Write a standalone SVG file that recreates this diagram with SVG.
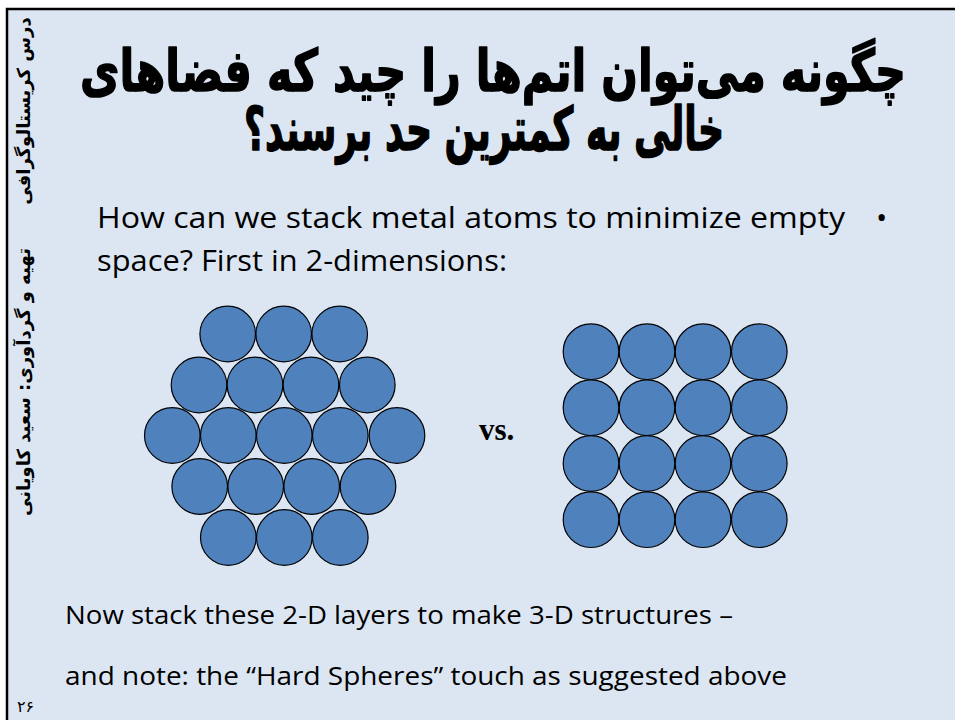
<svg xmlns="http://www.w3.org/2000/svg" width="955" height="720" viewBox="0 0 955 720">
  <style>
    .atom { fill: #4F81BD; stroke: #000000; stroke-width: 1.2; }
    .fa { font-family: "DejaVu Sans", "Noto Sans", sans-serif; font-weight: bold; fill: #000000; }
    .heavy { stroke: #000000; stroke-width: 1.6; stroke-linejoin: round; }
    .en { font-family: "Open Sans", "Liberation Sans", sans-serif; fill: #000000; }
  </style>

  <!-- page and slide frame -->
  <rect x="0" y="0" width="955" height="720" fill="#FFFFFF"/>
  <rect x="7" y="9" width="948" height="711" fill="#DCE6F2"/>
  <path d="M7,720 V9 H955" fill="none" stroke="#000000" stroke-width="2.5"/>

  <!-- side caption -->
  <g id="side-caption">
    <text class="fa" font-size="18" direction="rtl" text-anchor="middle" transform="translate(30,111) rotate(-90)">درس کریستالوگرافی</text>
    <text class="fa" font-size="18" direction="rtl" text-anchor="middle" transform="translate(30,382) rotate(-90)">تهیه و گردآوری: سعید کاویانی</text>
  </g>
  <text id="page-number" x="17" y="712" style="font-family:'DejaVu Sans',sans-serif;font-size:16px;font-weight:normal" fill="#000000">۲۶</text>

  <!-- title -->
  <g id="title">
    <text class="fa heavy" font-size="58" direction="rtl" text-anchor="middle" x="493" y="91" textLength="826" lengthAdjust="spacingAndGlyphs">چگونه می‌توان اتم‌ها را چید که فضاهای</text>
    <text class="fa heavy" font-size="60" direction="rtl" text-anchor="middle" x="484" y="150" textLength="480" lengthAdjust="spacingAndGlyphs">خالی به کمترین حد برسند؟</text>
  </g>

  <!-- bullet -->
  <g id="bullet">
    <text class="en" font-size="30" x="97" y="228" textLength="748" lengthAdjust="spacingAndGlyphs">How can we stack metal atoms to minimize empty</text>
    <text class="en" font-size="30" x="97" y="271" textLength="410" lengthAdjust="spacingAndGlyphs">space? First in 2-dimensions:</text>
    <text class="en" font-size="30" x="876" y="228">•</text>
  </g>

  <!-- close-packed (hexagonal) layer -->
  <g id="hex-layer">
    <circle class="atom" cx="227.7" cy="334" r="27.8"/>
    <circle class="atom" cx="283.7" cy="334" r="27.8"/>
    <circle class="atom" cx="339.7" cy="334" r="27.8"/>
    <circle class="atom" cx="199" cy="385" r="27.8"/>
    <circle class="atom" cx="255" cy="385" r="27.8"/>
    <circle class="atom" cx="311" cy="385" r="27.8"/>
    <circle class="atom" cx="367.3" cy="385" r="27.8"/>
    <circle class="atom" cx="172.3" cy="435.5" r="27.8"/>
    <circle class="atom" cx="228.3" cy="435.5" r="27.8"/>
    <circle class="atom" cx="284.3" cy="435.5" r="27.8"/>
    <circle class="atom" cx="340.3" cy="435.5" r="27.8"/>
    <circle class="atom" cx="397" cy="435.5" r="27.8"/>
    <circle class="atom" cx="199.7" cy="486.5" r="27.8"/>
    <circle class="atom" cx="255.7" cy="486.5" r="27.8"/>
    <circle class="atom" cx="311.7" cy="486.5" r="27.8"/>
    <circle class="atom" cx="368" cy="486.5" r="27.8"/>
    <circle class="atom" cx="228.3" cy="537.5" r="27.8"/>
    <circle class="atom" cx="284.3" cy="537.5" r="27.8"/>
    <circle class="atom" cx="340.3" cy="537.5" r="27.8"/>
  </g>

  <text id="vs" x="479" y="440" font-family="Liberation Serif, serif" font-weight="bold" font-size="31" fill="#000000">vs.</text>

  <!-- square layer -->
  <g id="square-layer">
    <circle class="atom" cx="591" cy="351.7" r="27.8"/>
    <circle class="atom" cx="647" cy="351.7" r="27.8"/>
    <circle class="atom" cx="703" cy="351.7" r="27.8"/>
    <circle class="atom" cx="759.3" cy="351.7" r="27.8"/>
    <circle class="atom" cx="591" cy="407.7" r="27.8"/>
    <circle class="atom" cx="647" cy="407.7" r="27.8"/>
    <circle class="atom" cx="703" cy="407.7" r="27.8"/>
    <circle class="atom" cx="759.3" cy="407.7" r="27.8"/>
    <circle class="atom" cx="591" cy="463.5" r="27.8"/>
    <circle class="atom" cx="647" cy="463.5" r="27.8"/>
    <circle class="atom" cx="703" cy="463.5" r="27.8"/>
    <circle class="atom" cx="759.3" cy="463.5" r="27.8"/>
    <circle class="atom" cx="591" cy="519.7" r="27.8"/>
    <circle class="atom" cx="647" cy="519.7" r="27.8"/>
    <circle class="atom" cx="703" cy="519.7" r="27.8"/>
    <circle class="atom" cx="759.3" cy="519.7" r="27.8"/>
  </g>

  <!-- closing notes -->
  <g id="notes">
    <text class="en" font-size="26" x="65" y="624" textLength="668" lengthAdjust="spacingAndGlyphs">Now stack these 2-D layers to make 3-D structures –</text>
    <text class="en" font-size="26" x="65" y="685" textLength="722" lengthAdjust="spacingAndGlyphs">and note: the “Hard Spheres” touch as suggested above</text>
  </g>
</svg>
